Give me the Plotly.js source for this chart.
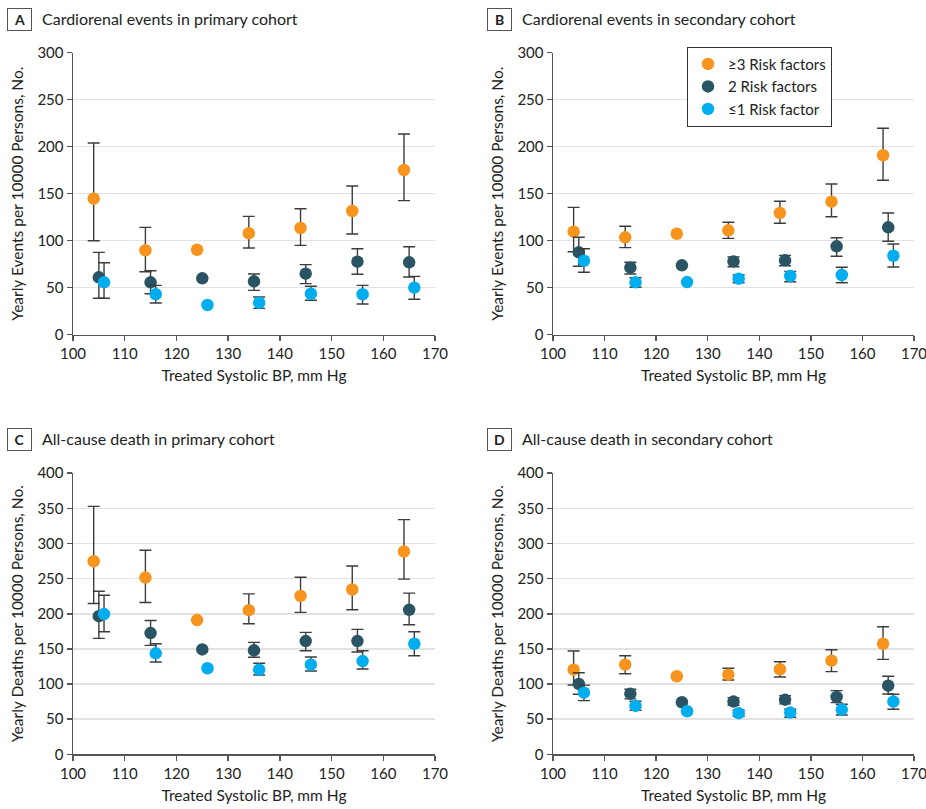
<!DOCTYPE html>
<html>
<head>
<meta charset="utf-8">
<script src="https://cdn.plot.ly/plotly-3.0.1.min.js"></script>
<style>html,body{margin:0;padding:0;background:#fff;}#chart{width:926px;height:809px;}</style>
</head>
<body>
<div id="chart"></div>
<script>
// Treated systolic BP (mm Hg) positions, slightly offset per risk group
var bp3 = [104, 114, 124, 134, 144, 154, 164];
var bp2 = [105, 115, 125, 135, 145, 155, 165];
var bp1 = [106, 116, 126, 136, 146, 156, 166];

var seriesNames = ["≥3 Risk factors", "2 Risk factors", "≤1 Risk factor"];

// Panel A: cardiorenal events, primary cohort
var A_r3 = [144.7, 89.8, 90.4, 107.9, 113.5, 131.6, 175.2];
var A_r3_up = [203.9, 114.2, null, 125.9, 134.0, 158.2, 213.5];
var A_r3_lo = [100.0, 67.0, null, 92.2, 95.0, 107.1, 142.6];
var A_r2 = [61.0, 55.7, 60.0, 56.8, 64.9, 77.7, 77.0];
var A_r2_up = [87.6, 68.1, null, 64.6, 74.5, 91.5, 93.6];
var A_r2_lo = [38.7, 43.6, null, 47.2, 54.3, 64.3, 61.4];
var A_r1 = [55.7, 43.0, 31.6, 34.0, 43.6, 43.0, 50.0];
var A_r1_up = [76.6, 52.5, null, 40.1, 51.5, 52.5, 62.1];
var A_r1_lo = [38.7, 33.7, null, 28.0, 36.6, 32.7, 37.7];

// Panel B: cardiorenal events, secondary cohort
var B_r3 = [109.6, 103.6, 107.4, 111.0, 129.5, 141.5, 190.9];
var B_r3_up = [135.5, 115.3, null, 119.6, 141.9, 160.3, 219.6];
var B_r3_lo = [88.3, 92.6, null, 102.5, 118.5, 125.5, 164.3];
var B_r2 = [87.6, 71.3, 73.8, 78.0, 79.1, 94.0, 114.2];
var B_r2_up = [103.6, 77.0, null, 82.7, 84.4, 103.2, 129.5];
var B_r2_lo = [72.8, 64.6, null, 72.3, 73.4, 83.4, 99.4];
var B_r1 = [78.7, 55.7, 56.0, 59.6, 62.4, 63.5, 84.0];
var B_r1_up = [91.5, 60.6, null, 63.8, 67.4, 71.7, 96.5];
var B_r1_lo = [66.4, 50.4, null, 55.3, 56.4, 55.3, 72.0];

// Panel C: all-cause death, primary cohort
var C_r3 = [274.7, 251.5, 191.0, 205.1, 225.4, 234.5, 288.5];
var C_r3_up = [352.8, 290.3, null, 228.3, 252.0, 268.0, 333.9];
var C_r3_lo = [214.6, 216.0, null, 185.7, 201.9, 205.6, 249.2];
var C_r2 = [196.6, 172.5, 149.3, 147.9, 161.1, 161.1, 205.6];
var C_r2_up = [232.1, 190.5, null, 159.3, 173.5, 177.7, 229.3];
var C_r2_lo = [165.0, 155.0, null, 138.0, 147.4, 145.5, 184.3];
var C_r1 = [199.5, 143.7, 122.4, 120.4, 127.5, 132.7, 157.3];
var C_r1_up = [226.4, 157.3, null, 129.5, 138.4, 147.4, 174.3];
var C_r1_lo = [174.3, 131.3, null, 112.9, 118.5, 121.4, 140.3];

// Panel D: all-cause death, secondary cohort
var D_r3 = [120.4, 127.5, 111.0, 113.3, 121.0, 133.2, 157.3];
var D_r3_up = [146.9, 140.3, null, 122.4, 131.7, 148.8, 181.4];
var D_r3_lo = [98.7, 114.7, null, 105.8, 110.0, 117.6, 135.1];
var D_r2 = [100.1, 86.3, 74.1, 75.0, 77.8, 81.6, 97.7];
var D_r2_up = [116.1, 92.5, null, 80.6, 83.5, 90.6, 111.0];
var D_r2_lo = [85.5, 78.8, null, 69.8, 71.7, 73.5, 85.9];
var D_r1 = [87.7, 68.9, 61.3, 58.5, 59.4, 63.6, 75.0];
var D_r1_up = [98.5, 75.5, null, 62.7, 64.2, 71.2, 85.5];
var D_r1_lo = [76.4, 62.7, null, 54.2, 52.8, 56.0, 64.2];

var colors = ["#F7941D", "#2A5464", "#00AEEF"];

function errs(val, up, lo) {
  return {
    type: "data", symmetric: false, visible: true,
    array: val.map(function (v, i) { return up[i] == null ? NaN : up[i] - v; }),
    arrayminus: val.map(function (v, i) { return lo[i] == null ? NaN : v - lo[i]; }),
    color: "#3c3c3c", thickness: 1.4, width: 6
  };
}

var panels = [
  {xa: "x", ya: "y", sets: [[bp3, A_r3, A_r3_up, A_r3_lo], [bp2, A_r2, A_r2_up, A_r2_lo], [bp1, A_r1, A_r1_up, A_r1_lo]], legend: false},
  {xa: "x2", ya: "y2", sets: [[bp3, B_r3, B_r3_up, B_r3_lo], [bp2, B_r2, B_r2_up, B_r2_lo], [bp1, B_r1, B_r1_up, B_r1_lo]], legend: true},
  {xa: "x3", ya: "y3", sets: [[bp3, C_r3, C_r3_up, C_r3_lo], [bp2, C_r2, C_r2_up, C_r2_lo], [bp1, C_r1, C_r1_up, C_r1_lo]], legend: false},
  {xa: "x4", ya: "y4", sets: [[bp3, D_r3, D_r3_up, D_r3_lo], [bp2, D_r2, D_r2_up, D_r2_lo], [bp1, D_r1, D_r1_up, D_r1_lo]], legend: false}
];

var data = [];
panels.forEach(function (p) {
  p.sets.forEach(function (s, k) {
    data.push({
      type: "scatter", mode: "markers",
      x: s[0], y: s[1], xaxis: p.xa, yaxis: p.ya,
      name: seriesNames[k], legendgroup: "g" + k, showlegend: p.legend,
      marker: {color: colors[k], size: 12.5, line: {width: 0}},
      error_y: errs(s[1], s[2], s[3]),
      hoverinfo: "x+y"
    });
  });
});

var FONT = "Lato, 'Open Sans', sans-serif";
var W = 926, H = 809;
function px(x) { return x / W; }
function py(y) { return 1 - y / H; }

function xaxis(dom, anchor) {
  return {
    domain: dom, anchor: anchor, range: [100, 170], dtick: 10, tick0: 100,
    showgrid: false, zeroline: false, showline: true, linecolor: "#555", linewidth: 1.5,
    ticks: "outside", ticklen: 5, tickwidth: 1.5, tickcolor: "#555",
    ticklabeloverflow: "allow",
    tickfont: {family: FONT, size: 15, color: "#222"},
    title: {text: "Treated Systolic BP, mm Hg", font: {family: FONT, size: 15.5, color: "#222"}, standoff: 9},
    fixedrange: true
  };
}
function yaxis(dom, anchor, top, label) {
  return {
    domain: dom, anchor: anchor, range: [0, top], dtick: 50, tick0: 0,
    showgrid: true, gridcolor: "#e2e2e2", gridwidth: 1.5,
    zeroline: false, showline: true, linecolor: "#555", linewidth: 1.5,
    ticks: "outside", ticklen: 5, tickwidth: 1.5, tickcolor: "#555",
    tickfont: {family: FONT, size: 15, color: "#222"},
    title: {text: label, font: {family: FONT, size: 15.5, color: "#222"}, standoff: 10},
    fixedrange: true
  };
}

var xL = [px(73), px(435)], xR = [px(553), px(914)];
var yT = [py(334.7), py(52.7)], yB = [py(754.3), py(473.2)];
var evLabel = "Yearly Events per 10000 Persons, No.";
var dLabel = "Yearly Deaths per 10000 Persons, No.";

function panelTitle(letter, text, xBox, yc) {
  return [
    {xref: "paper", yref: "paper", x: px(xBox), y: py(yc), xanchor: "center", yanchor: "middle",
     text: "<b>" + letter + "</b>", showarrow: false, font: {family: FONT, size: 14, color: "#222"},
     bordercolor: "#555", borderwidth: 1, width: 21, height: 19, borderpad: 1, align: "center"},
    {xref: "paper", yref: "paper", x: px(xBox + 21), y: py(yc - 1), xanchor: "left", yanchor: "middle",
     text: text, showarrow: false, font: {family: FONT, size: 16, color: "#222"}}
  ];
}

var annotations = []
  .concat(panelTitle("A", "Cardiorenal events in primary cohort", 19, 19.7))
  .concat(panelTitle("B", "Cardiorenal events in secondary cohort", 499, 19.7))
  .concat(panelTitle("C", "All-cause death in primary cohort", 19, 439))
  .concat(panelTitle("D", "All-cause death in secondary cohort", 499, 439));

var layout = {
  width: W, height: H,
  margin: {l: 0, r: 0, t: 0, b: 0, pad: 0},
  paper_bgcolor: "#fff", plot_bgcolor: "#fff",
  font: {family: FONT, color: "#222"},
  showlegend: true,
  legend: {
    x: px(687), y: py(46.7), xanchor: "left", yanchor: "top",
    bordercolor: "#333", borderwidth: 1, bgcolor: "#fff",
    font: {family: FONT, size: 15, color: "#222"}, tracegroupgap: 0, itemwidth: 30
  },
  xaxis: xaxis(xL, "y"), yaxis: yaxis(yT, "x", 300, evLabel),
  xaxis2: xaxis(xR, "y2"), yaxis2: yaxis(yT, "x2", 300, evLabel),
  xaxis3: xaxis(xL, "y3"), yaxis3: yaxis(yB, "x3", 400, dLabel),
  xaxis4: xaxis(xR, "y4"), yaxis4: yaxis(yB, "x4", 400, dLabel),
  annotations: annotations
};

Plotly.newPlot("chart", data, layout, {displayModeBar: false, staticPlot: true});
</script>
</body>
</html>
